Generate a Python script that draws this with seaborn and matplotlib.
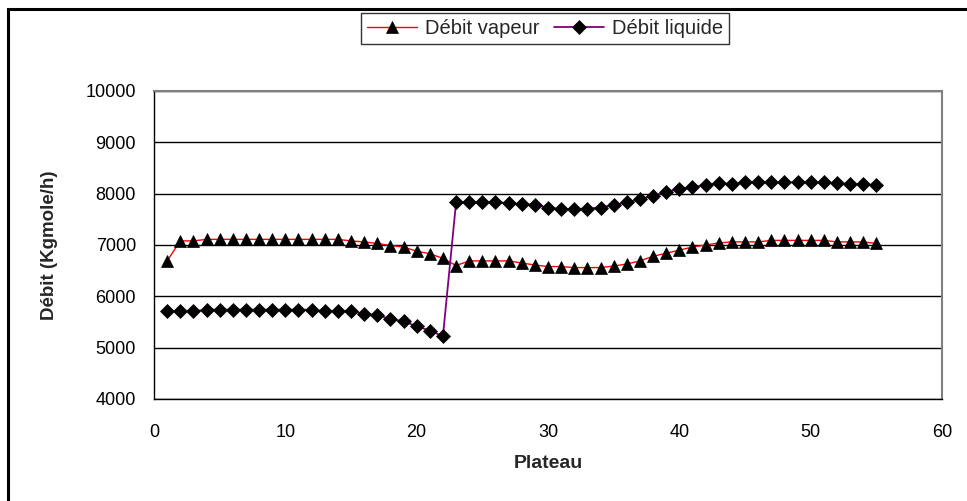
import matplotlib

matplotlib.use("Agg")
import matplotlib.pyplot as plt
import pandas as pd
import seaborn as sns
from matplotlib.patches import Rectangle


plateau = list(range(1, 56))

debit_vapeur = [
    6690, 7080, 7080, 7110, 7110, 7110, 7110, 7110, 7110, 7110,
    7110, 7110, 7110, 7110, 7080, 7060, 7030, 6990, 6960, 6880,
    6830, 6740, 6600, 6690, 6690, 6690, 6690, 6650, 6610, 6580,
    6580, 6560, 6560, 6560, 6590, 6630, 6690, 6780, 6840, 6900,
    6960, 7000, 7040, 7060, 7060, 7060, 7090, 7090, 7090, 7090,
    7090, 7060, 7060, 7060, 7030,
]

debit_liquide = [
    5710, 5710, 5710, 5740, 5740, 5740, 5740, 5740, 5740, 5740,
    5740, 5740, 5710, 5710, 5710, 5660, 5630, 5560, 5510, 5420,
    5330, 5225, 7830, 7830, 7830, 7840, 7810, 7800, 7780, 7730,
    7700, 7700, 7710, 7730, 7780, 7830, 7890, 7960, 8030, 8095,
    8130, 8170, 8200, 8190, 8220, 8220, 8220, 8220, 8220, 8220,
    8220, 8200, 8190, 8190, 8160,
]

x_ticks = [0, 10, 20, 30, 40, 50, 60]
y_ticks = [4000, 5000, 6000, 7000, 8000, 9000, 10000]

df = pd.DataFrame({
    "Plateau": plateau,
    "vapeur": debit_vapeur,
    "liquide": debit_liquide,
})

sns.set_style("white")
plt.rcParams["font.family"] = ["Liberation Sans", "DejaVu Sans"]

W, H = 967, 501
fig = plt.figure(figsize=(W / 100, H / 100), dpi=100)
ax = fig.add_axes([154 / W, 1 - 399 / H, (942 - 154) / W, (399 - 91) / H])

marker_kws = dict(markerfacecolor="black", markeredgecolor="black", markeredgewidth=0.5)
sns.lineplot(data=df, x="Plateau", y="vapeur", ax=ax, color="#ff0000", linewidth=1.0,
             marker="^", markersize=9, label="Débit vapeur", **marker_kws)
sns.lineplot(data=df, x="Plateau", y="liquide", ax=ax, color="#800080", linewidth=1.3,
             marker="D", markersize=7, label="Débit liquide", **marker_kws)

ax.set_xlim(x_ticks[0], x_ticks[-1])
ax.set_ylim(y_ticks[0], y_ticks[-1])
ax.set_xticks(x_ticks)
ax.set_yticks(y_ticks)
ax.grid(axis="y", color="black", linewidth=1.0)
ax.grid(axis="x", visible=False)
ax.set_axisbelow(True)

for side in ("left", "bottom"):
    ax.spines[side].set_color("black")
    ax.spines[side].set_linewidth(1.0)
for side in ("top", "right"):
    ax.spines[side].set_color("#808080")
    ax.spines[side].set_linewidth(1.5)

ax.tick_params(axis="both", direction="inout", length=8, width=1, color="black",
               labelsize=13, labelcolor="black")
ax.tick_params(axis="y", pad=9)
ax.tick_params(axis="x", pad=14)

ax.set_xlabel("Plateau", fontsize=14, fontweight="bold", labelpad=10)
ax.set_ylabel("Débit (Kgmole/h)", fontsize=13.5, fontweight="bold", labelpad=20)

leg = ax.legend(loc="upper center", bbox_to_anchor=(545 / W, 1 - 13 / H),
                bbox_transform=fig.transFigure, ncol=2, frameon=True, fancybox=False,
                fontsize=14.5, handlelength=2.5, handletextpad=0.4, columnspacing=0.7,
                borderpad=0.3, borderaxespad=0)
leg.get_frame().set_edgecolor("black")
leg.get_frame().set_linewidth(1.0)

fig.patches.append(Rectangle((8 / W, -0.1), 1.2, (H - 9) / H + 0.1, transform=fig.transFigure,
                             fill=False, edgecolor="black", linewidth=2.2))

fig.savefig("out.png", dpi=100)
plt.close(fig)
